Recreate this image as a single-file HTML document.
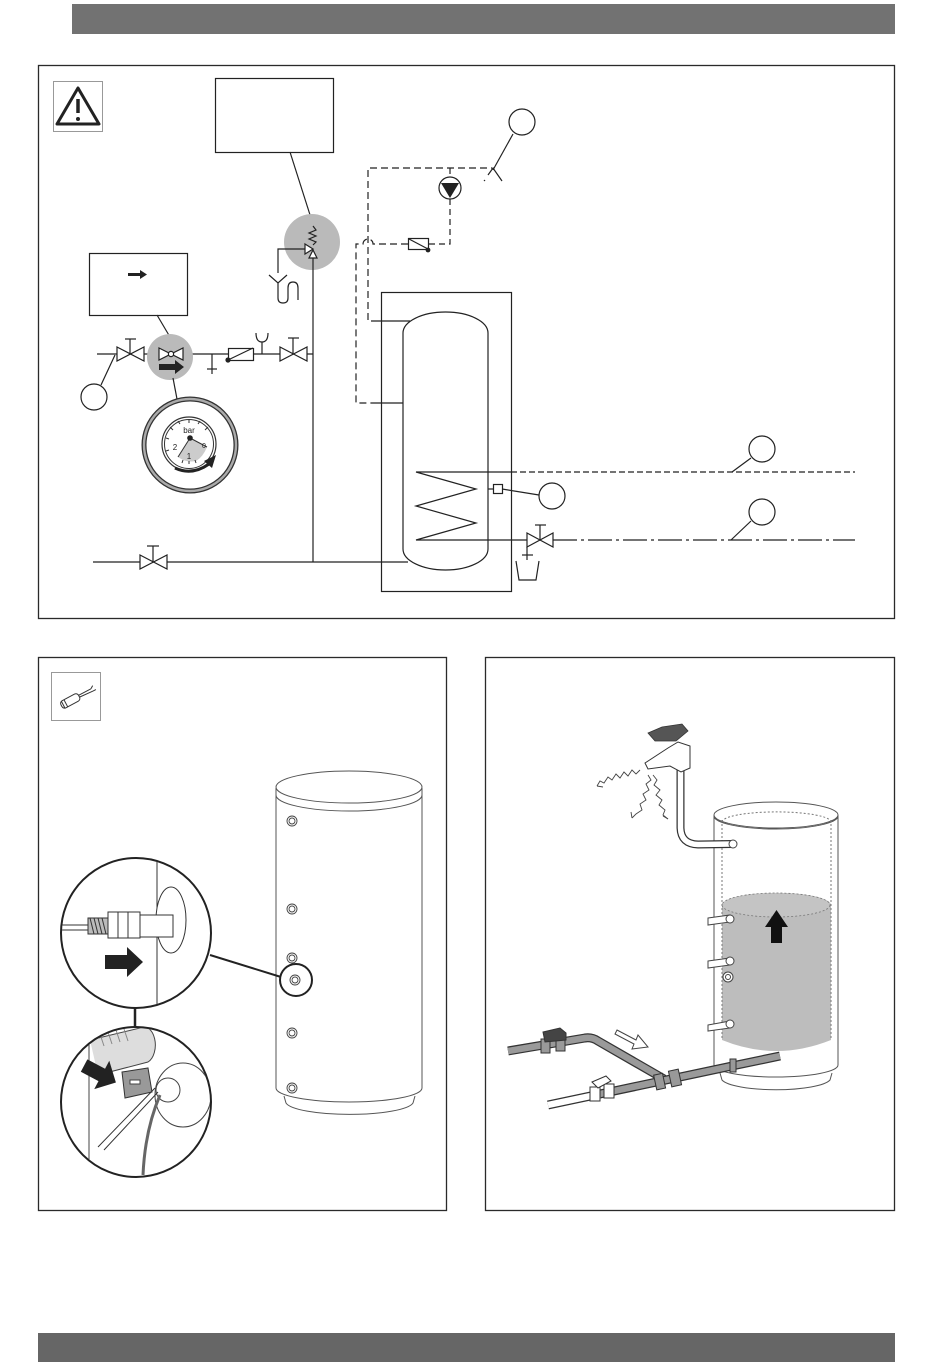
<!DOCTYPE html>
<html><head><meta charset="utf-8"><style>
html,body{margin:0;padding:0;background:#fff;width:950px;height:1370px;overflow:hidden}
svg{display:block}
text{font-family:"Liberation Sans",sans-serif}
</style></head><body>
<svg width="950" height="1370" viewBox="0 0 950 1370" xmlns="http://www.w3.org/2000/svg">
<defs>
<clipPath id="c1"><circle cx="136" cy="933" r="74"/></clipPath>
<clipPath id="c2"><circle cx="136" cy="1102" r="74"/></clipPath>
</defs>
<!-- bars -->
<rect x="72" y="4" width="823" height="30" fill="#727272"/>
<rect x="38" y="1333" width="857" height="29" fill="#666"/>
<!-- panels -->
<rect x="38.5" y="65.5" width="856" height="553" fill="none" stroke="#2a2a2a" stroke-width="1.3"/>
<rect x="38.5" y="657.5" width="408" height="553" fill="none" stroke="#2a2a2a" stroke-width="1.3"/>
<rect x="485.5" y="657.5" width="409" height="553" fill="none" stroke="#2a2a2a" stroke-width="1.3"/>

<!-- warning icon -->
<rect x="53.5" y="81.5" width="49" height="50" fill="none" stroke="#999" stroke-width="1"/>
<path d="M78,88 L99,124 L57,124 Z" fill="none" stroke="#222" stroke-width="3" stroke-linejoin="round"/>
<line x1="78" y1="99" x2="78" y2="113" stroke="#222" stroke-width="3.5"/>
<circle cx="78" cy="119" r="2" fill="#222"/>

<g fill="none" stroke="#222" stroke-width="1.2">
<rect x="215.5" y="78.5" width="118" height="74"/>
<line x1="290" y1="152" x2="311" y2="218"/>
<rect x="89.5" y="253.5" width="98" height="62"/>
<line x1="157" y1="315" x2="170" y2="337"/>
</g>
<path d="M128,273 L140,273 L140,270 L147,274.5 L140,279 L140,276 L128,276 Z" fill="#222"/>

<!-- safety valve -->
<circle cx="312" cy="242" r="28" fill="#bababa"/>
<g fill="none" stroke="#222" stroke-width="1.2">
<polyline points="313,226 316,230 309,233 316,236 309,239 316,242 313,245"/>
<path d="M278,273 L278,249 L305,249"/>
<path d="M305,244 L313,249 L305,254 Z" fill="#fff"/>
<path d="M309,258 L313,250 L317,258 Z" fill="#fff"/>
<line x1="313" y1="258" x2="313" y2="562"/>
<polyline points="269,275 278,283 287,275"/>
<path d="M278,283 L278,298 Q278,303 283,303 Q288,303 288,298 L288,288 Q288,282 293,282 Q298,282 298,288 L298,300"/>
</g>

<!-- left piping -->
<g fill="none" stroke="#222" stroke-width="1.2">
<line x1="93" y1="562" x2="408" y2="562"/>
<path d="M140,555 L167,569 L167,555 L140,569 Z" fill="#fff"/>
<line x1="153" y1="562" x2="153" y2="546"/><line x1="147" y1="546" x2="159" y2="546"/>
<line x1="97" y1="354" x2="313" y2="354"/>
<path d="M117,347 L144,361 L144,347 L117,361 Z" fill="#fff"/>
<line x1="130" y1="354" x2="130" y2="339"/><line x1="125" y1="339" x2="136" y2="339"/>
</g>
<circle cx="170" cy="357" r="23" fill="#bababa"/>
<g fill="none" stroke="#222" stroke-width="1.2">
<path d="M159,348 L183,360 L183,348 L159,360 Z" fill="#fff"/>
<circle cx="171" cy="354" r="2.6" fill="#fff"/>
<line x1="212" y1="354" x2="212" y2="374"/><line x1="207" y1="369" x2="217" y2="369"/>
<rect x="228.5" y="348.5" width="25" height="12" fill="#fff"/>
<line x1="228" y1="360" x2="253" y2="348"/>
<line x1="262" y1="354" x2="262" y2="342"/>
<path d="M256,333 Q256,342 262,342 Q268,342 268,333"/>
<path d="M280,347 L307,361 L307,347 L280,361 Z" fill="#fff"/>
<line x1="293" y1="354" x2="293" y2="338"/><line x1="288" y1="338" x2="299" y2="338"/>
<circle cx="94" cy="397" r="13"/>
<line x1="101" y1="385" x2="115" y2="355"/>
<line x1="177" y1="399" x2="173" y2="378"/>
</g>
<circle cx="228" cy="360" r="2.6" fill="#222"/>
<path d="M159,364 L175,364 L175,360 L184,367 L175,374 L175,370 L159,370 Z" fill="#222"/>

<!-- gauge -->
<circle cx="190" cy="445" r="46" fill="#fff" stroke="#333" stroke-width="5"/>
<circle cx="190" cy="445" r="46" fill="none" stroke="#aaa" stroke-width="2.4"/>
<circle cx="189" cy="444" r="27" fill="none" stroke="#333" stroke-width="1.2"/>
<circle cx="189" cy="444" r="24.5" fill="none" stroke="#333" stroke-width="1"/>
<path d="M190,438 L178,457 Q186,463 196,461 Q203,457 207,447 Z" fill="#ccc"/>
<g stroke="#333" stroke-width="1">
<line x1="190" y1="438" x2="178" y2="457"/><line x1="190" y1="438" x2="207" y2="447"/>
<line x1="170" y1="427" x2="173" y2="430"/><line x1="178" y1="421" x2="180" y2="424"/>
<line x1="189" y1="420" x2="189" y2="423"/><line x1="200" y1="421" x2="198" y2="424"/>
<line x1="208" y1="427" x2="205" y2="430"/><line x1="166" y1="438" x2="169" y2="439"/>
<line x1="166" y1="451" x2="169" y2="450"/><line x1="182" y1="463" x2="183" y2="460"/>
<line x1="189" y1="464" x2="189" y2="461"/><line x1="196" y1="463" x2="195" y2="460"/>
</g>
<circle cx="190" cy="438" r="2.8" fill="#222"/>
<text x="189" y="433" font-size="8" text-anchor="middle" fill="#222">bar</text>
<text x="175" y="450" font-size="8" text-anchor="middle" fill="#222">2</text>
<text x="189" y="459" font-size="8" text-anchor="middle" fill="#222">1</text>
<text x="204" y="448" font-size="7" text-anchor="middle" fill="#222">0</text>
<path d="M175,468 Q192,476 209,464" fill="none" stroke="#222" stroke-width="3"/>
<path d="M204,461 L216,455 L212,468 Z" fill="#222"/>

<!-- dashed circuit -->
<g fill="none" stroke="#222" stroke-width="1.2">
<path d="M378,321 L368,321 L368,168 L492,168" stroke-dasharray="7,4"/>
<line x1="378" y1="321" x2="410" y2="321"/>
<path d="M450,168 L450,177 M450,199 L450,244 L428,244" stroke-dasharray="6,4"/>
<path d="M408,244 L373,244 A5,5 0 0 0 363,244 L356,244 L356,403 L375,403" stroke-dasharray="7,4"/>
<line x1="375" y1="403" x2="403" y2="403"/>
<rect x="408.5" y="238.5" width="20" height="11" fill="#fff"/>
<line x1="409" y1="239" x2="428" y2="249"/>
<polyline points="488,175 493,168 502,181"/>
<line x1="484" y1="180" x2="485" y2="181"/>
<circle cx="522" cy="122" r="13"/>
<line x1="513" y1="134" x2="493" y2="170"/>
<circle cx="450" cy="188" r="11" fill="#fff"/>
</g>
<circle cx="428" cy="250" r="2.4" fill="#222"/>
<path d="M441,183 L459,183 L450,198 Z" fill="#222"/>

<!-- tank -->
<g fill="none" stroke="#222" stroke-width="1.2">
<rect x="381.5" y="292.5" width="130" height="299"/>
<path d="M403,333 A42.5,21 0 0 1 488,333 L488,549 A42.5,21 0 0 1 403,549 Z"/>
<polyline points="511,472 416,472 476,489 416,506 476,523 416,540 527,540"/>
<line x1="511" y1="472" x2="855" y2="472" stroke-dasharray="6,3"/>
<line x1="553" y1="540" x2="855" y2="540" stroke-dasharray="24,4,3,4"/>
<path d="M527,533 L553,547 L553,533 L527,547 Z" fill="#fff"/>
<line x1="540" y1="540" x2="540" y2="525"/><line x1="535" y1="525" x2="546" y2="525"/>
<line x1="527" y1="547" x2="527" y2="560"/><line x1="522" y1="555" x2="533" y2="555"/>
<polyline points="516,561 519,580 536,580 539,561"/>
<rect x="493.5" y="484.5" width="9" height="9"/>
<line x1="488" y1="489" x2="493" y2="489"/>
<line x1="502" y1="489" x2="539" y2="495"/>
<circle cx="552" cy="496" r="13"/>
<circle cx="762" cy="449" r="13"/>
<line x1="751" y1="458" x2="732" y2="472"/>
<circle cx="762" cy="512" r="13"/>
<line x1="751" y1="521" x2="731" y2="540"/>
</g>

<!-- bottom left panel -->
<rect x="51.5" y="672.5" width="49" height="48" fill="none" stroke="#999" stroke-width="1"/>
<g transform="rotate(-28 72 700)">
<rect x="60" y="696" width="20" height="8" rx="3" fill="#fff" stroke="#333" stroke-width="1"/>
<line x1="62" y1="696" x2="62" y2="704" stroke="#333"/><line x1="65" y1="696" x2="65" y2="704" stroke="#333"/>
<path d="M80,699 L94,699 M80,701 L95,702 M94,699 l3,-2 M95,702 l3,0" stroke="#333" stroke-width="1" fill="none"/>
</g>
<g fill="none" stroke="#555" stroke-width="1">
<ellipse cx="349" cy="787" rx="73" ry="16"/>
<path d="M276,788 L276,1088 A73,14 0 0 0 422,1088 L422,788"/>
<path d="M276,795 A73,16 0 0 0 422,795"/>
<path d="M284,1096 L286,1103 A64,13 0 0 0 413,1103 L415,1096"/>
</g>
<g fill="#fff" stroke="#444" stroke-width="0.9">
<circle cx="292" cy="821" r="5"/><circle cx="292" cy="821" r="3"/>
<circle cx="292" cy="909" r="5"/><circle cx="292" cy="909" r="3"/>
<circle cx="292" cy="958" r="5"/><circle cx="292" cy="958" r="3"/>
<circle cx="292" cy="1033" r="5"/><circle cx="292" cy="1033" r="3"/>
<circle cx="292" cy="1088" r="5"/><circle cx="292" cy="1088" r="3"/>
<circle cx="295" cy="980" r="5"/><circle cx="295" cy="980" r="3"/>
</g>
<circle cx="296" cy="980" r="16" fill="none" stroke="#222" stroke-width="2"/>
<line x1="210" y1="955" x2="281" y2="977" stroke="#222" stroke-width="2"/>
<line x1="135" y1="1008" x2="135" y2="1028" stroke="#222" stroke-width="2.5"/>
<g clip-path="url(#c1)" fill="none" stroke="#333" stroke-width="1">
<line x1="157" y1="850" x2="157" y2="1010"/>
<ellipse cx="171" cy="920" rx="15" ry="33" fill="#fff"/>
<line x1="58" y1="925" x2="100" y2="925"/><line x1="58" y1="930" x2="100" y2="930"/>
<rect x="88" y="918" width="20" height="16" fill="#bbb"/>
<path d="M90,918 l4,16 M94,918 l4,16 M98,918 l4,16 M102,918 l4,16"/>
<rect x="108" y="912" width="32" height="26" fill="#fff"/>
<line x1="118" y1="912" x2="118" y2="938"/><line x1="128" y1="912" x2="128" y2="938"/>
<rect x="140" y="915" width="33" height="22" fill="#fff"/>
</g>
<circle cx="136" cy="933" r="75" fill="none" stroke="#222" stroke-width="2"/>
<path d="M105,955 L127,955 L127,947 L143,962 L127,977 L127,969 L105,969 Z" fill="#222"/>
<g clip-path="url(#c2)" fill="none" stroke="#444" stroke-width="1">
<line x1="89" y1="1020" x2="89" y2="1180"/>
<path d="M90,1040 L140,1028 A10,16 0 0 1 148,1062 L98,1075" fill="#ddd"/>
<path d="M100,1034 l4,12 M108,1032 l4,12 M116,1030 l4,12 M124,1029 l4,12" stroke="#888"/>
<ellipse cx="183" cy="1095" rx="28" ry="32" fill="#fff"/>
<circle cx="168" cy="1090" r="12" fill="#fff"/>
<path d="M122,1072 L148,1068 L152,1092 L125,1098 Z" fill="#999" stroke="#333"/>
<rect x="130" y="1080" width="10" height="4" fill="#fff"/>
<path d="M155,1088 L98,1147 M158,1092 L104,1150" stroke="#333"/>
<path d="M160,1095 Q145,1130 143,1175" stroke="#666" stroke-width="3"/>
</g>
<circle cx="136" cy="1102" r="75" fill="none" stroke="#222" stroke-width="2"/>
<g transform="rotate(28 100 1074)">
<path d="M82,1067 L102,1067 L102,1058 L118,1074 L102,1090 L102,1081 L82,1081 Z" fill="#222"/>
</g>

<!-- bottom right panel -->
<path d="M722,905 A54,12 0 0 1 831,905 L831,1040 Q776,1062 722,1040 Z" fill="#bdbdbd"/>
<ellipse cx="776" cy="905" rx="54" ry="12" fill="#c4c4c4" stroke="#777" stroke-width="0.8" stroke-dasharray="2,2"/>
<g fill="none" stroke="#555" stroke-width="1">
<ellipse cx="776" cy="815" rx="62" ry="13"/>
<path d="M714,816 A62,13 0 0 0 838,816"/>
<path d="M714,815 L714,1065 A62,12 0 0 0 838,1065 L838,815"/>
<path d="M720,1073 L722,1080 A55,12 0 0 0 830,1080 L832,1073"/>
<path d="M722,820 L722,1040 M831,820 L831,1040" stroke-dasharray="2,2" stroke="#777"/>
<path d="M722,822 A54,10 0 0 1 831,822" stroke-dasharray="2,2" stroke="#777"/>
</g>
<path d="M765,927 L776.5,910 L788,927 L782,927 L782,943 L771,943 L771,927 Z" fill="#111"/>
<g fill="#fff" stroke="#444" stroke-width="1">
<path d="M708,918 L730,915 L730,922 L708,925 Z"/><circle cx="730" cy="919" r="4"/>
<path d="M708,961 L730,958 L730,965 L708,968 Z"/><circle cx="730" cy="961" r="4"/>
<circle cx="728" cy="977" r="5"/><circle cx="728" cy="977" r="2.5"/>
<path d="M708,1025 L730,1021 L730,1028 L708,1031 Z"/><circle cx="730" cy="1024" r="4"/>
</g>
<!-- tap -->
<path d="M680.5,770 L680.5,828 Q681,844 698,844.5 L732,844" fill="none" stroke="#333" stroke-width="8"/>
<path d="M680.5,770 L680.5,828 Q681,844 698,844.5 L732,844" fill="none" stroke="#fff" stroke-width="5.5"/>
<circle cx="733" cy="844" r="4" fill="#fff" stroke="#444"/>
<path d="M645,763 L668,748 L678,742 L690,746 L690,768 L681,772 L670,766 L648,769 Z" fill="#fff" stroke="#333" stroke-width="1"/>
<path d="M648,733 L662,727 L682,724 L688,731 L676,741 L655,741 Z" fill="#555" stroke="#333" stroke-width="0.8"/>
<g fill="none" stroke="#444" stroke-width="0.9">
<polyline points="640,770 636,774 632,770 628,776 624,772 620,778 616,774 612,780 608,777 604,783 600,781 597,786"/>
<polyline points="597,786 603,787 M597,786 601,781"/>
<polyline points="648,775 651,780 646,784 649,790 643,794 646,800 640,804 642,810 636,814 632,818"/>
<polyline points="632,818 631,812 M632,818 637,815"/>
<polyline points="653,775 657,780 654,785 660,790 656,795 662,800 659,805 665,810 663,815 668,819"/>
<polyline points="668,819 663,816 M668,819 668,813"/>
</g>
<!-- pipes -->
<g fill="none" stroke-linejoin="round">
<path d="M508,1051 L585,1038 Q592,1037 598,1041 L664,1079" stroke="#333" stroke-width="9"/>
<path d="M508,1051 L585,1038 Q592,1037 598,1041 L664,1079" stroke="#9a9a9a" stroke-width="6.5"/>
<path d="M548,1105 L600,1094" stroke="#333" stroke-width="9"/>
<path d="M548,1105 L600,1094" stroke="#fff" stroke-width="6.5"/>
<path d="M600,1094 L732,1066 L780,1056" stroke="#333" stroke-width="9"/>
<path d="M600,1094 L732,1066 L780,1056" stroke="#9a9a9a" stroke-width="6.5"/>
</g>
<g stroke="#333" stroke-width="1">
<rect x="541" y="1039" width="9" height="14" fill="#999"/>
<rect x="556" y="1037" width="9" height="14" fill="#999"/>
<path d="M543,1032 L560,1028 L566,1033 L566,1040 L545,1042 Z" fill="#444"/>
<rect x="655" y="1074" width="9" height="15" fill="#999" transform="rotate(-12 660 1081)"/>
<rect x="670" y="1070" width="10" height="16" fill="#999" transform="rotate(-12 675 1078)"/>
<rect x="730" y="1059" width="6" height="13" fill="#999"/>
<rect x="590" y="1087" width="10" height="14" fill="#fff"/>
<rect x="604" y="1084" width="10" height="14" fill="#fff"/>
<path d="M592,1082 L606,1076 L611,1081 L598,1088 Z" fill="#fff"/>
</g>
<path d="M617,1030 L636,1040 L638,1035 L648,1047 L632,1049 L634,1044 L615,1034 Z" fill="#fff" stroke="#444" stroke-width="1"/>
</svg>
</body></html>
